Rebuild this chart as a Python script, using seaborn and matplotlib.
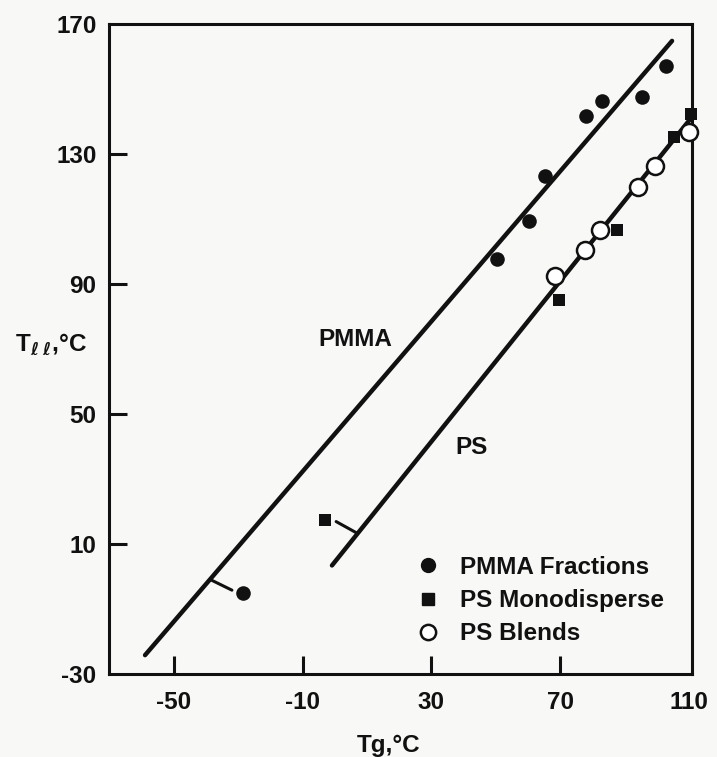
import matplotlib
matplotlib.use("Agg")
import matplotlib.pyplot as plt
from matplotlib.lines import Line2D
import seaborn as sns
import pandas as pd

# ---- data ----
pmma_tg = [102.9, 83.0, 78.1, 95.5, 65.3, 60.4, 50.4, -28.6]
pmma_tll = [157.1, 146.4, 141.8, 147.6, 123.1, 109.3, 97.6, -5.2]

psmono_tg = [110.8, 105.4, 87.7, 69.7, -3.1]
psmono_tll = [142.4, 135.3, 106.5, 85.0, 17.5]

psblend_tg = [110.2, 99.5, 94.2, 82.4, 77.8, 68.4]
psblend_tll = [136.9, 126.4, 120.0, 106.5, 100.4, 92.4]

pmma_line_tg = [-59.0, 104.8]
pmma_line_tll = [-24.2, 164.8]
ps_line_tg = [-0.9, 110.5]
ps_line_tll = [3.4, 140.8]

pmma_leader_tg = [-38.8, -32.0]
pmma_leader_tll = [-0.9, -4.2]
ps_leader_tg = [0.4, 6.6]
ps_leader_tll = [16.9, 13.5]

x_ticks = [-50, -10, 30, 70, 110]
y_ticks = [-30, 10, 50, 90, 130, 170]
legend_labels = ["PMMA Fractions", "PS Monodisperse", "PS Blends"]

# ---- style ----
sns.set_style("ticks")
plt.rcParams["font.family"] = ["Liberation Sans", "DejaVu Sans"]
plt.rcParams["font.weight"] = "bold"
ink = "#111111"
bg = "#f8f8f6"
fs = 17.5

fig = plt.figure(figsize=(7.17, 7.57), dpi=100, facecolor=bg)
ax = fig.add_axes([109 / 717, 1 - 674 / 757, 583 / 717, 650 / 757])
ax.set_facecolor(bg)

df_pmma = pd.DataFrame({"Tg": pmma_tg, "Tll": pmma_tll})
df_mono = pd.DataFrame({"Tg": psmono_tg, "Tll": psmono_tll})
df_blend = pd.DataFrame({"Tg": psblend_tg, "Tll": psblend_tll})

# fit lines
sns.lineplot(x=pmma_line_tg, y=pmma_line_tll, ax=ax, color=ink, lw=3.2,
             solid_capstyle="round", sort=False, estimator=None)
sns.lineplot(x=ps_line_tg, y=ps_line_tll, ax=ax, color=ink, lw=3.2,
             solid_capstyle="round", sort=False, estimator=None)
# leader marks
ax.plot(pmma_leader_tg, pmma_leader_tll, color=ink, lw=2.2)
ax.plot(ps_leader_tg, ps_leader_tll, color=ink, lw=2.2)

# points
sns.scatterplot(data=df_pmma, x="Tg", y="Tll", ax=ax, marker="o", s=110,
                color=ink, edgecolor=ink, linewidth=0, clip_on=False, zorder=4)
sns.scatterplot(data=df_mono, x="Tg", y="Tll", ax=ax, marker="s", s=64,
                color=ink, edgecolor=ink, linewidth=0, clip_on=False, zorder=4)
sns.scatterplot(data=df_blend, x="Tg", y="Tll", ax=ax, marker="o", s=150,
                facecolor="white", edgecolor=ink, linewidth=1.8, clip_on=False, zorder=5)

ax.set_xlim(-70.2, 111)
ax.set_ylim(-30, 170)
ax.set_xticks(x_ticks)
ax.set_yticks(y_ticks)
ax.set_xticklabels([str(v) for v in x_ticks])
ax.set_yticklabels([str(v) for v in y_ticks])

for sp in ax.spines.values():
    sp.set_linewidth(2.2)
    sp.set_color(ink)
ax.tick_params(axis="both", direction="in", length=13, width=2.2, color=ink,
               labelsize=fs, labelcolor=ink)
ax.tick_params(axis="x", pad=12)
ax.tick_params(axis="y", pad=9)
# the corner ticks coincide with the frame in the reference
ax.xaxis.get_major_ticks()[-1].tick1line.set_visible(False)
ax.yaxis.get_major_ticks()[0].tick1line.set_visible(False)
ax.yaxis.get_major_ticks()[-1].tick1line.set_visible(False)
ax.xaxis.get_major_ticks()[0].tick1line.set_visible(True)
for lab in ax.get_xticklabels() + ax.get_yticklabels():
    lab.set_fontweight("bold")

ax.set_xlabel("Tg,°C", fontsize=fs, fontweight="bold", color=ink)
ax.xaxis.set_label_coords(0.479, -0.092)
ax.set_ylabel(r"T$_{\ell\;\ell}$,°C", fontsize=fs, fontweight="bold", color=ink,
              rotation=0, ha="center", va="center")
ax.yaxis.set_label_coords(-0.10, 0.508)

ax.text(6.3, 72.8, "PMMA", fontsize=fs, fontweight="bold", color=ink,
        ha="center", va="center")
ax.text(42.6, 39.6, "PS", fontsize=fs, fontweight="bold", color=ink,
        ha="center", va="center")

handles = [
    Line2D([], [], ls="none", marker="o", ms=10, mfc=ink, mec=ink),
    Line2D([], [], ls="none", marker="s", ms=8, mfc=ink, mec=ink),
    Line2D([], [], ls="none", marker="o", ms=11, mfc="white", mec=ink, mew=1.8),
]
leg = ax.legend(handles, legend_labels, loc="upper left",
                bbox_to_anchor=(416 / 717, 1 - 556 / 757),
                bbox_transform=fig.transFigure, frameon=False,
                prop={"size": fs, "weight": "bold"}, handlelength=1.0,
                handletextpad=0.8, labelspacing=0.42, borderpad=0,
                borderaxespad=0)
for t in leg.get_texts():
    t.set_color(ink)

fig.savefig("out.png", dpi=100, facecolor=bg)
